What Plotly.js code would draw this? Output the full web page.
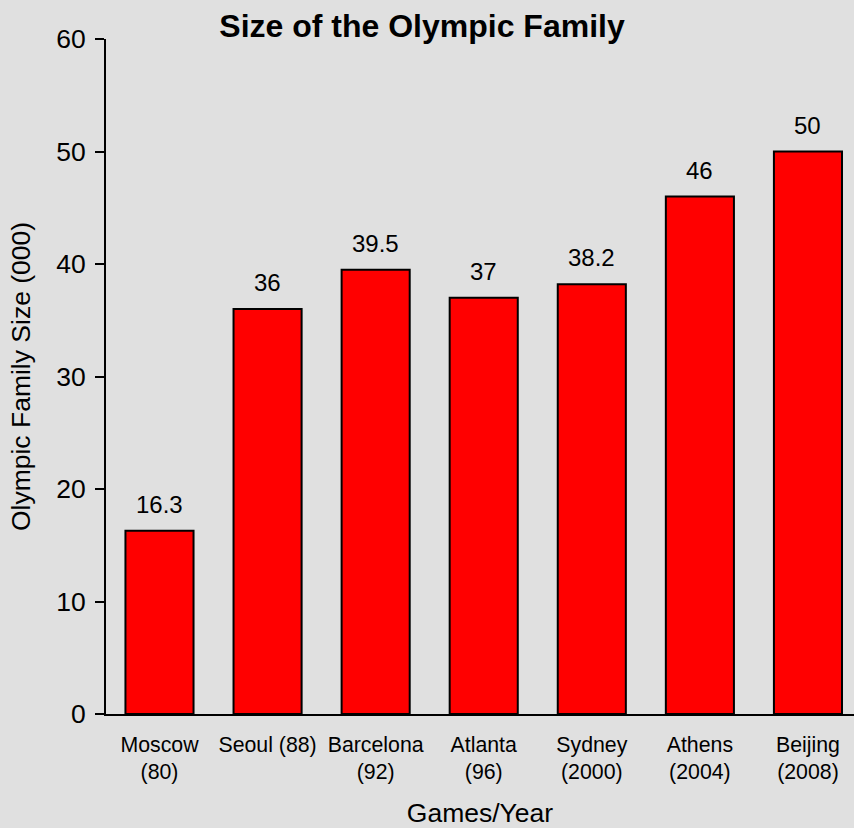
<!DOCTYPE html>
<html>
<head>
<meta charset="utf-8">
<script src="https://cdn.plot.ly/plotly-3.0.1.min.js"></script>
<style>html,body{margin:0;padding:0;background:#e0e0e0;overflow:hidden}</style>
</head>
<body>
<div id="chart" style="width:854px;height:828px"></div>
<script>
const categories = ["Moscow<br>(80)", "Seoul (88)", "Barcelona<br>(92)", "Atlanta<br>(96)", "Sydney<br>(2000)", "Athens<br>(2004)", "Beijing<br>(2008)"];
const values = [16.3, 36, 39.5, 37, 38.2, 46, 50];
const valueLabels = ["16.3", "36", "39.5", "37", "38.2", "46", "50"];
const yTicks = [0, 10, 20, 30, 40, 50, 60];

const FONT = "Liberation Sans, Arial, Helvetica, sans-serif";

const trace = {
  type: "bar",
  x: categories,
  y: values,
  marker: { color: "#ff0000", line: { color: "#000000", width: 2 } },
  hoverinfo: "skip"
};

const annotations = categories.map((c, i) => ({
  x: c, y: values[i], xref: "x", yref: "y",
  text: valueLabels[i], showarrow: false,
  yanchor: "bottom", yshift: 11,
  font: { family: FONT, size: 24, color: "#000" }
}));

const layout = {
  width: 854, height: 828,
  paper_bgcolor: "#e0e0e0", plot_bgcolor: "#e0e0e0",
  margin: { l: 106, r: 0, t: 39, b: 114, pad: 0 },
  bargap: 0.37,
  showlegend: false,
  font: { family: FONT, color: "#000" },
  title: {
    text: "<b>Size of the Olympic Family</b>",
    font: { family: FONT, size: 32, color: "#000" },
    x: 422 / 854, xref: "container", xanchor: "center",
    y: 1 - 26 / 828, yref: "container", yanchor: "middle"
  },
  xaxis: {
    type: "category",
    range: [-0.495, 6.426],
    showline: true, linecolor: "#000", linewidth: 2,
    ticks: "", showgrid: false, zeroline: false,
    tickfont: { family: FONT, size: 21.3, color: "#000" },
    ticklabelstandoff: 10,
    title: { text: "Games/Year", font: { family: FONT, size: 26.5, color: "#000" }, standoff: 20 }
  },
  yaxis: {
    range: [0, 60],
    tickvals: yTicks,
    ticktext: yTicks.map(String),
    showline: true, linecolor: "#000", linewidth: 2,
    ticks: "outside", ticklen: 9, tickwidth: 2, tickcolor: "#000",
    showgrid: false, zeroline: false,
    tickfont: { family: FONT, size: 26.5, color: "#000" },
    ticklabelstandoff: 4,
    title: { text: "Olympic Family Size (000)", font: { family: FONT, size: 26.5, color: "#000" }, standoff: 18 }
  },
  annotations: annotations
};

Plotly.newPlot("chart", [trace], layout, { displayModeBar: false, staticPlot: true });
</script>
</body>
</html>
